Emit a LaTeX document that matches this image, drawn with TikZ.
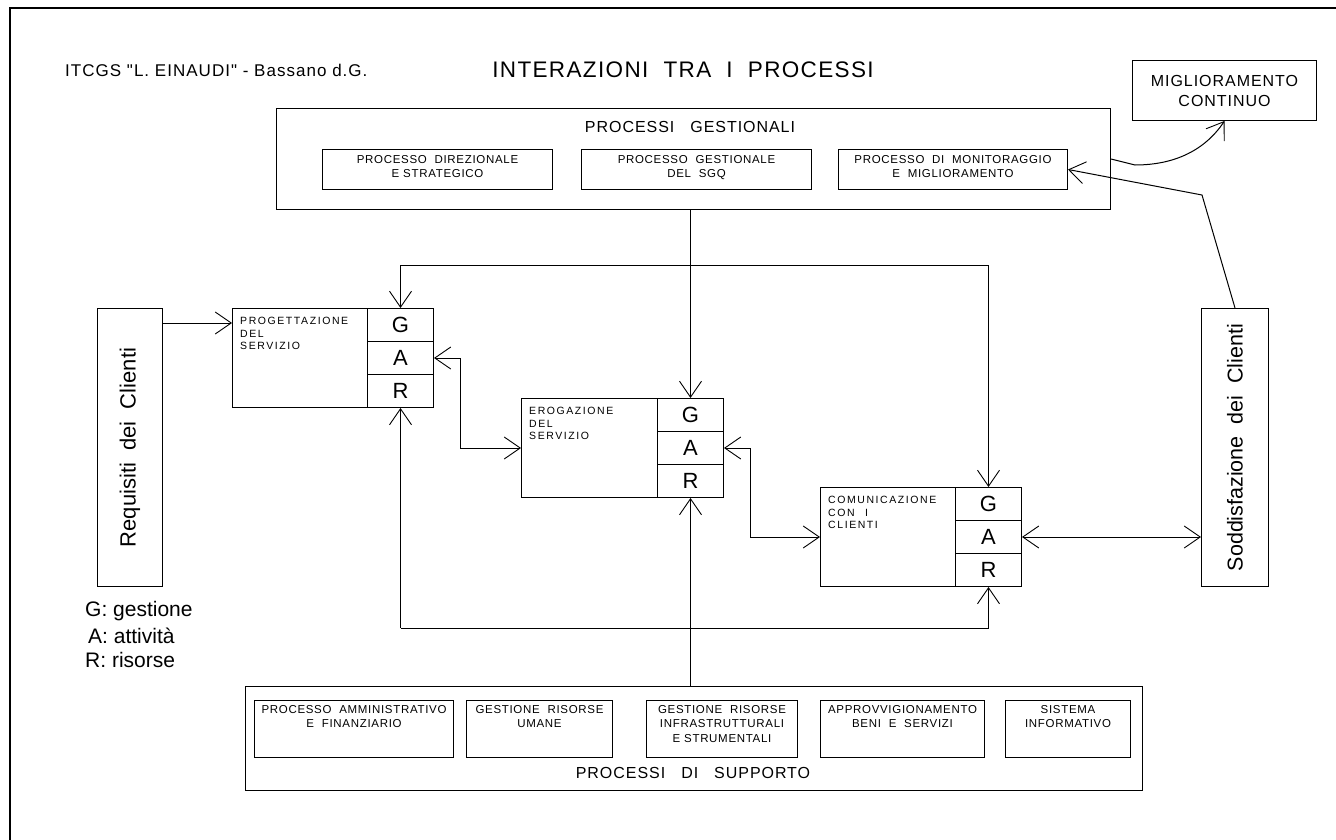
\documentclass[tikz,border=0pt]{standalone}
\usepackage{fontspec}
\setmainfont{Liberation Sans}
\newfontfamily\spacedf[LetterSpace=15]{Liberation Sans}
\newfontfamily\widef[LetterSpace=6]{Liberation Sans}
\usetikzlibrary{arrows.meta,calc}
\newcommand{\fsz}[1]{\fontsize{#1}{1.2\dimexpr#1pt\relax}\selectfont}
\begin{document}
\begin{tikzpicture}[
  x=1pt,y=-1pt,
  bx/.style={draw,line width=1pt,inner sep=0pt,anchor=north west},
  cell/.style={bx,minimum width=66pt,minimum height=33pt,font=\fsz{22}},
  ptxt/.style={font=\spacedf\fsz{10.5},align=left,anchor=north west,inner sep=0pt},
  itxt/.style={font=\widef\fontsize{11.5}{14.5}\selectfont,align=center,anchor=north,inner sep=0pt},
  con/.style={line width=1pt},
  tip/.tip={Straight Barb[length=16pt,width=22pt,line width=0.9pt]},
  arr/.style={con,-tip},
  arrr/.style={con,tip-tip},
]
\useasboundingbox (0,0) rectangle (1336,840);
\draw[line width=1.5pt] (10,840) -- (10,8) -- (1336,8);

% titles
\node[anchor=west,inner sep=0pt,font=\widef\fsz{17}] (hdr) at (65,70) {ITCGS "L. EINAUDI" - Bassano d.G.};
\node[inner sep=0pt,font=\widef\fsz{22.5}] (ttl) at (683,70) {INTERAZIONI\ \ TRA\ \ I\ \ PROCESSI};

% miglioramento continuo
\node[bx,minimum width=184pt,minimum height=60pt] (mc) at (1132,60) {};
\node[inner sep=0pt,font=\widef\fontsize{16}{20}\selectfont,align=center] (mct) at (mc.center) {MIGLIORAMENTO\\CONTINUO};

% processi gestionali
\node[bx,minimum width=834pt,minimum height=101pt] (pg) at (276,108) {};
\node[inner sep=0pt,font=\widef\fsz{16}] (pgt) at (690,127) {PROCESSI\quad GESTIONALI};
\node[bx,minimum width=230pt,minimum height=40pt] (dir) at (322,149) {};
\node[bx,minimum width=230pt,minimum height=40pt] (sgq) at (581,149) {};
\node[bx,minimum width=229pt,minimum height=40pt] (mon) at (838,149) {};
\node[itxt] (dirt) at ($(dir.north)+(0,6)$) {PROCESSO\ \ DIREZIONALE\\E STRATEGICO};
\node[itxt] (sgqt) at ($(sgq.north)+(0,6)$) {PROCESSO\ \ GESTIONALE\\DEL\ \ SGQ};
\node[itxt] (mont) at ($(mon.north)+(0,6)$) {PROCESSO\ \ DI\ \ MONITORAGGIO\\E\ \ MIGLIORAMENTO};

% progettazione
\node[bx,minimum width=201pt,minimum height=99pt] (pr) at (232,308) {};
\node[ptxt] (prt) at (240,317) {PROGETTAZIONE\\DEL\\SERVIZIO};
\node[cell] (prG) at (367,308) {G};
\node[cell] (prA) at (367,341) {A};
\node[cell] (prR) at (367,374) {R};

% erogazione
\node[bx,minimum width=202pt,minimum height=99pt] (er) at (521,398) {};
\node[ptxt] (ert) at (529,407) {EROGAZIONE\\DEL\\SERVIZIO};
\node[cell] (erG) at (657,398) {G};
\node[cell] (erA) at (657,431) {A};
\node[cell] (erR) at (657,464) {R};

% comunicazione
\node[bx,minimum width=201pt,minimum height=99pt] (cm) at (820,487) {};
\node[ptxt] (cmt) at (828,496) {COMUNICAZIONE\\CON\quad I\\CLIENTI};
\node[cell] (cmG) at (955,487) {G};
\node[cell] (cmA) at (955,520) {A};
\node[cell] (cmR) at (955,553) {R};

% side boxes
\node[bx,minimum width=65pt,minimum height=278pt] (rq) at (97,308) {};
\node[rotate=90,inner sep=0pt,font=\fsz{22}] (rqt) at (rq.center) {Requisiti\ \ dei\ \ Clienti};
\node[bx,minimum width=67pt,minimum height=278pt] (sd) at (1201,308) {};
\node[rotate=90,inner sep=0pt,font=\fsz{21.5}] (sdt) at (sd.center) {Soddisfazione\ \ dei\ \ Clienti};

% legend
\node[anchor=west,inner sep=0pt,font=\fsz{21}] (lg) at (85,611) {G: gestione};
\node[anchor=west,inner sep=0pt,font=\fsz{21}] (la) at (88,636) {A: attività};
\node[anchor=west,inner sep=0pt,font=\fsz{21}] (lr) at (85,660) {R: risorse};

% processi di supporto
\node[bx,minimum width=897pt,minimum height=104pt] (ps) at (245,686) {};
\node[bx,minimum width=199pt,minimum height=57pt] (s1) at (254,700) {};
\node[bx,minimum width=146pt,minimum height=57pt] (s2) at (466,700) {};
\node[bx,minimum width=151pt,minimum height=57pt] (s3) at (646,700) {};
\node[bx,minimum width=164pt,minimum height=57pt] (s4) at (820,700) {};
\node[bx,minimum width=125pt,minimum height=57pt] (s5) at (1005,700) {};
\node[itxt] (s1t) at ($(s1.north)+(0,5)$) {PROCESSO\ \ AMMINISTRATIVO\\E\ \ FINANZIARIO};
\node[itxt] (s2t) at ($(s2.north)+(0,5)$) {GESTIONE\ \ RISORSE\\UMANE};
\node[itxt] (s3t) at ($(s3.north)+(0,5)$) {GESTIONE\ \ RISORSE\\INFRASTRUTTURALI\\E STRUMENTALI};
\node[itxt] (s4t) at ($(s4.north)+(0,5)$) {APPROVVIGIONAMENTO\\BENI\ \ E\ \ SERVIZI};
\node[itxt] (s5t) at ($(s5.north)+(0,5)$) {SISTEMA\\INFORMATIVO};
\node[inner sep=0pt,font=\widef\fsz{16}] (pst) at (693,773) {PROCESSI\quad DI\quad SUPPORTO};

% connectors
\coordinate (tl) at (400,265);
\coordinate (bl) at (400,628);
\coordinate (j1) at (460,0);
\coordinate (j2) at (750,0);
\coordinate (sk) at (1202,195);

\draw[arr] (pg.south -| erG.north) -- (erG.north);
\draw[con] (tl -| prG.north) -- (tl -| cmG.north);
\draw[arr] (tl -| prG.north) -- (prG.north);
\draw[arr] (tl -| cmG.north) -- (cmG.north);

\draw[con] (bl -| prR.south) -- (bl -| cmR.south);
\draw[arr] (bl -| prR.south) -- (prR.south);
\draw[arr] (bl -| cmR.south) -- (cmR.south);
\draw[arr] (ps.north -| erR.south) -- (erR.south);

\draw[arrr] (prA.east) -- (prA.east -| j1) -- (er.west -| j1) -- (er.west);
\draw[arrr] (erA.east) -- (erA.east -| j2) -- (cm.west -| j2) -- (cm.west);
\draw[arrr] (cmA.east) -- (sd.west |- cmA.east);

\draw[arr] ($(rq.north east)+(0,15)$) -- ($(pr.north west)+(0,15)$);

\draw[arr] (sd.north) -- (sk) -- (mon.east);
\draw[arr] (pg.east) -- (1135,165) .. controls (1175,165) and (1205,150) .. (mc.south);
\end{tikzpicture}
\end{document}
